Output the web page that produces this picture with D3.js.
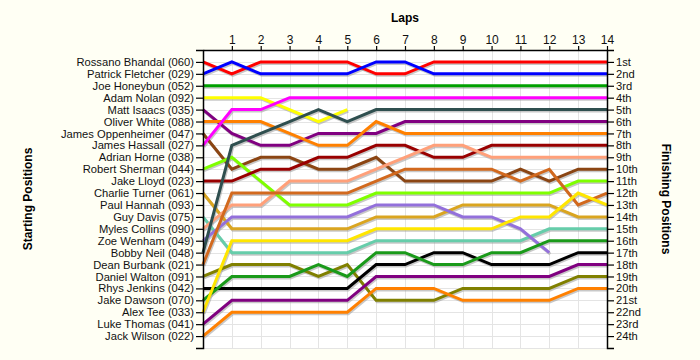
<!DOCTYPE html>
<html>
<head>
<meta charset="utf-8">
<script src="https://cdn.jsdelivr.net/npm/d3@7"></script>
<style>
  html, body { margin: 0; padding: 0; background: #fffff4; }
  svg { display: block; }
  text { font-family: "Liberation Sans", Arial, sans-serif; }
</style>
</head>
<body>
<svg id="chart" width="700" height="360"></svg>
<script>
// ---------- data ----------
const drivers = [
  "Rossano Bhandal (060)", "Patrick Fletcher (029)", "Joe Honeybun (052)", "Adam Nolan (092)",
  "Matt Isaacs (035)", "Oliver White (088)", "James Oppenheimer (047)", "James Hassall (027)",
  "Adrian Horne (038)", "Robert Sherman (044)", "Jake Lloyd (023)", "Charlie Turner (061)",
  "Paul Hannah (093)", "Guy Davis (075)", "Myles Collins (090)", "Zoe Wenham (049)",
  "Bobby Neil (048)", "Dean Burbank (021)", "Daniel Walton (091)", "Rhys Jenkins (042)",
  "Jake Dawson (070)", "Alex Tee (033)", "Luke Thomas (041)", "Jack Wilson (022)"
];
const finishLabels = [
  "1st","2nd","3rd","4th","5th","6th","7th","8th","9th","10th","11th","12th",
  "13th","14th","15th","16th","17th","18th","19th","20th","21st","22nd","23rd","24th"
];
const lapLabels = [1,2,3,4,5,6,7,8,9,10,11,12,13,14];
// position of each driver at lap 0..n (same order as drivers)
const lapPositions = [
  [1,2,1,1,1,1,2,2,1,1,1,1,1,1,1],
  [2,1,2,2,2,2,1,1,2,2,2,2,2,2,2],
  [3,3,3,3,3,3,3,3,3,3,3,3,3,3,3],
  [4,4,4,5,6,5],
  [5,7,8,8,7,7,7,6,6,6,6,6,6,6,6],
  [6,6,6,7,8,8,6,7,7,7,7,7,7,7,7],
  [7,10,9,9,10,10,9,11,11,11,11,10,11,10,10],
  [8,5,5,4,4,4,4,4,4,4,4,4,4,4,4],
  [],
  [10,9,11,13,13,13,12,12,12,12,12,12,12,11,11],
  [11,11,10,10,9,9,8,8,9,9,8,8,8,8,8],
  [12,15,15,15,15,15,14,14,14,13,13,13,13,14,14],
  [],
  [14,17,17,17,17,17,16,16,16,16,16,16,15,15,15],
  [15,13,13,11,11,11,10,9,8,8,9,9,9,9,9],
  [16,14,14,14,14,14,13,13,13,14,14,15,17],
  [17,8,7,6,5,6,5,5,5,5,5,5,5,5,5],
  [18,12,12,12,12,12,11,10,10,10,10,11,10,13,12],
  [19,18,18,18,19,18,21,21,21,20,20,20,20,19,19],
  [20,20,20,20,20,20,18,18,17,17,18,18,18,17,17],
  [21,19,19,19,18,19,17,17,18,18,17,17,16,16,16],
  [22,16,16,16,16,16,15,15,15,15,15,14,14,12,13],
  [23,21,21,21,21,21,19,19,19,19,19,19,19,18,18],
  [24,22,22,22,22,22,20,20,20,21,21,21,21,20,20]
];
// ---------- styles ----------
const lineColors = [
  "#ff0000","#0000ff","#00a000","#ffff00","#800080","#ff8000","#8b4513","#ff00ff",
  "#888888","#7fff00","#990000","#daa520","#888888","#66cdaa","#ffa07a","#9370db",
  "#2f4f4f","#d2691e","#808000","#000000","#1a9a1a","#ffe600","#800080","#ff8000"
];

const svg = d3.select("#chart");
const pLeft = 203, pRight = 607, pTop = 50, pBottom = 348;
const x = d3.scaleLinear().domain([0, 14]).range([pLeft, pRight]);
const y = d3.scaleLinear().domain([0, 25]).range([pTop, pBottom]);

// plot background
svg.append("rect").attr("x", pLeft).attr("y", pTop)
  .attr("width", pRight - pLeft).attr("height", pBottom - pTop).attr("fill", "#ffffff");

// grid
const grid = svg.append("g").attr("stroke", "#e4e4e4").attr("stroke-width", 1);
grid.selectAll("line.v").data(lapLabels.slice(0, -1)).join("line")
  .attr("class", "v")
  .attr("x1", d => Math.round(x(d)) + 0.5).attr("x2", d => Math.round(x(d)) + 0.5)
  .attr("y1", pTop).attr("y2", pBottom);
grid.selectAll("line.h").data(d3.range(1, 26)).join("line")
  .attr("class", "h")
  .attr("x1", pLeft).attr("x2", pRight)
  .attr("y1", d => Math.round(y(d)) + 0.5).attr("y2", d => Math.round(y(d)) + 0.5);

// lines
const lineGen = d3.line().x((d, i) => x(i)).y(d => y(d));
const series = lapPositions.map((p, i) => ({ p, c: lineColors[i] })).filter(s => s.p.length > 1);

const shadows = svg.append("g").attr("transform", "translate(1,1.5)");
shadows.selectAll("path").data(series).join("path")
  .attr("d", s => lineGen(s.p))
  .attr("fill", "none").attr("stroke", "#9a9a9a").attr("stroke-opacity", 0.55)
  .attr("stroke-width", 3);

svg.append("g").selectAll("path").data(series).join("path")
  .attr("d", s => lineGen(s.p))
  .attr("fill", "none").attr("stroke", s => s.c)
  .attr("stroke-width", 3);

// axes
const axTop = svg.append("g").attr("transform", `translate(0,${pTop})`)
  .call(d3.axisTop(x).tickValues(lapLabels).tickSize(4).tickSizeOuter(0).tickPadding(2));
const axLeft = svg.append("g").attr("transform", `translate(${pLeft},0)`)
  .call(d3.axisLeft(y).tickValues(d3.range(1, 25)).tickFormat(d => drivers[d - 1])
    .tickSize(7).tickSizeOuter(7).tickPadding(2));
const axRight = svg.append("g").attr("transform", `translate(${pRight},0)`)
  .call(d3.axisRight(y).tickValues(d3.range(1, 25)).tickFormat(d => finishLabels[d - 1])
    .tickSize(7).tickSizeOuter(7).tickPadding(2));

[axTop, axLeft, axRight].forEach(a => {
  a.selectAll("path.domain").attr("stroke", "#000").attr("stroke-width", 1.5);
  a.selectAll(".tick line").attr("stroke", "#000").attr("stroke-width", 1.2);
  a.selectAll("text").attr("fill", "#111").style("font-size", "11.2px")
    .style("font-family", "'Liberation Sans', Arial, sans-serif");
});
axTop.selectAll("text").style("font-size", "12px");

// titles
svg.append("text").attr("x", (pLeft + pRight) / 2).attr("y", 22)
  .attr("text-anchor", "middle").style("font-size", "12px").style("font-weight", "bold")
  .text("Laps");
svg.append("text").attr("transform", "translate(32,199) rotate(-90)")
  .attr("text-anchor", "middle").style("font-size", "12px").style("font-weight", "bold")
  .text("Starting Positions");
svg.append("text").attr("transform", "translate(662,199) rotate(90)")
  .attr("text-anchor", "middle").style("font-size", "12px").style("font-weight", "bold")
  .text("Finishing Positions");
</script>
</body>
</html>
